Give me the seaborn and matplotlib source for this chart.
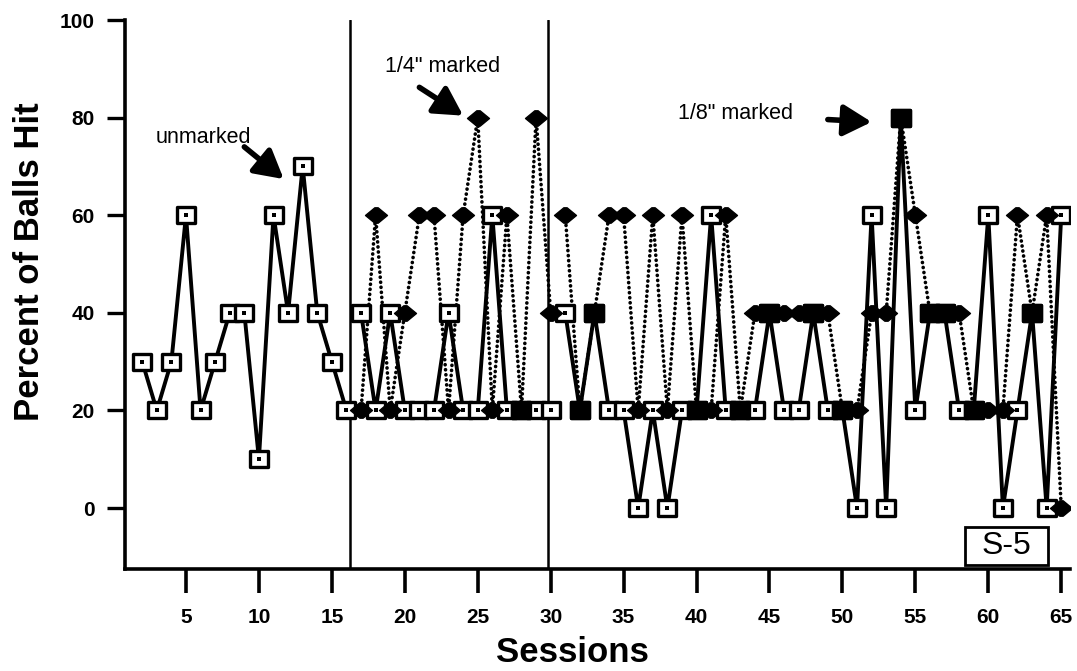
import numpy as np
import pandas as pd
import matplotlib
matplotlib.use("Agg")
import matplotlib.pyplot as plt
import seaborn as sns
from matplotlib.path import Path
from matplotlib.patches import Rectangle

# ---------------- data ----------------
phase_names = ["unmarked", "1/4\" marked", "1/8\" marked"]
phase_first_session = [2, 17, 31]
phase_change_lines = [16.25, 29.8]

sessions_unmarked = list(range(2, 66))
unmarked = [30, 20, 30, 60, 20, 30, 40, 40, 10, 60, 40, 70, 40, 30, 20,          # 2-16
            40, 20, 40, 20, 20, 20, 40, 20, 20, 60, 20, 20, 20, 20,              # 17-30
            40, 20, 40, 20, 20, 0, 20, 0, 20, 20, 60, 20, 20, 20, 40, 20, 20,    # 31-47
            40, 20, 20, 0, 60, 0, 80, 20, 40, 40, 20, 20, 60, 0, 20, 40, 0, 60]  # 48-65

sessions_marked = list(range(17, 66))
marked = [20, 60, 20, 40, 60, 60, 20, 60, 80, 20, 60, 20, 80, 40,                # 17-30
          60, 20, 40, 60, 60, 20, 60, 20, 60, 20, 20, 60, 20, 40, 40, 40, 40,    # 31-47
          40, 40, 20, 20, 40, 40, 80, 60, 40, 40, 40, 20, 20, 20, 60, 40, 60, 0] # 48-65

x_ticks = [5, 10, 15, 20, 25, 30, 35, 40, 45, 50, 55, 60, 65]
y_ticks = [0, 20, 40, 60, 80, 100]


def phase_of(s):
    return int(np.searchsorted(phase_first_session, s, side="right") - 1)


df_u = pd.DataFrame({"session": sessions_unmarked, "pct": unmarked})
df_u["phase"] = df_u["session"].map(phase_of)
df_m = pd.DataFrame({"session": sessions_marked, "pct": marked})
df_m["phase"] = df_m["session"].map(phase_of)

both = df_m.merge(df_u, on="session", suffixes=("_m", "_u"))
same = both[both["pct_m"] == both["pct_u"]]
df_m_only = df_m[~df_m["session"].isin(same["session"])]

# ---------------- style ----------------
sns.set_style("ticks")
plt.rcParams["font.family"] = ["Liberation Sans", "DejaVu Sans"]
plt.rcParams["text.color"] = "black"
plt.rcParams["axes.labelcolor"] = "black"
plt.rcParams["xtick.color"] = "black"
plt.rcParams["ytick.color"] = "black"

fig = plt.figure(figsize=(10.77, 6.71), dpi=100)
W, H = 1077, 671
ax = fig.add_axes([125 / W, 1 - 569 / H, (1070 - 125) / W, (569 - 20) / H])

square = Path([(-1, -0.82), (1, -0.82), (1, 0.82), (-1, 0.82), (-1, -0.82)],
              [Path.MOVETO, Path.LINETO, Path.LINETO, Path.LINETO, Path.CLOSEPOLY])
diamond = Path([(-1, 0), (-0.15, 0.7), (0.15, 0.7), (1, 0), (0.15, -0.7), (-0.15, -0.7), (-1, 0)],
               [Path.MOVETO] + [Path.LINETO] * 5 + [Path.CLOSEPOLY])

# dotted line (marked balls)
n0 = len(ax.lines)
sns.lineplot(data=df_m, x="session", y="pct", units="phase", estimator=None,
             color="black", lw=2.6, ax=ax, zorder=2)
for ln in ax.lines[n0:]:
    ln.set_linestyle((0, (0.05, 1.35)))
    ln.set_dash_capstyle("round")

# solid line (unmarked balls)
sns.lineplot(data=df_u, x="session", y="pct", units="phase", estimator=None,
             color="black", lw=2.8, ax=ax, zorder=3)

# open squares
sns.scatterplot(data=df_u, x="session", y="pct", marker=square, s=175,
                color="white", edgecolor="black", linewidth=2.4, ax=ax, zorder=4)
sns.scatterplot(data=df_u, x="session", y="pct", marker="s", s=5,
                color="black", edgecolor="black", linewidth=0, ax=ax, zorder=5)
# filled diamonds
sns.scatterplot(data=df_m_only, x="session", y="pct", marker=diamond, s=250,
                color="black", edgecolor="black", linewidth=1, ax=ax, zorder=6)
# coincident points appear as filled squares
sns.scatterplot(data=same, x="session", y="pct_m", marker=square, s=175,
                color="black", edgecolor="black", linewidth=2.4, ax=ax, zorder=7)

for xv in phase_change_lines:
    ax.axvline(xv, color="black", lw=1.8, zorder=1)

ax.set_xlim(0.82, 65.6)
ax.set_ylim(-12.5, 100)
ax.set_xticks(x_ticks)
ax.set_yticks(y_ticks)
ax.set_xticklabels([str(v) for v in x_ticks], fontweight="bold", fontsize=15)
ax.set_yticklabels([str(v) for v in y_ticks], fontweight="bold", fontsize=15)
ax.tick_params(axis="both", colors="black")
ax.tick_params(axis="y", length=13, width=2.4, pad=9, direction="out")
ax.tick_params(axis="x", length=17, width=2.6, pad=11, direction="out")
ax.set_xlabel("")
ax.set_ylabel("")
for side in ["top", "right"]:
    ax.spines[side].set_visible(False)
for side in ["left", "bottom"]:
    ax.spines[side].set_linewidth(2.6)
    ax.spines[side].set_color("black")

fig.text(30 / W, 1 - 262 / H, "Percent of Balls Hit", rotation=90,
         ha="center", va="center", fontsize=25, fontweight="bold", color="black")
fig.text(572 / W, 1 - 652 / H, "Sessions", ha="center", va="center",
         fontsize=25, fontweight="bold", color="black")

# annotations
ax.text(6.17, 76.0, phase_names[0], ha="center", va="center", fontsize=15.5, color="black")
ax.text(22.56, 90.4, phase_names[1], ha="center", va="center", fontsize=15.5, color="black")
ax.text(42.65, 80.9, phase_names[2], ha="center", va="center", fontsize=15.5, color="black")
arrow = dict(arrowstyle="-|>,head_length=0.9,head_width=0.5", lw=4,
             color="black", mutation_scale=19, shrinkA=0, shrinkB=0)
ax.annotate("", xy=(11.7, 67.4), xytext=(9.0, 74.0), arrowprops=arrow)
ax.annotate("", xy=(24.0, 80.4), xytext=(21.0, 86.2), arrowprops=arrow)
ax.annotate("", xy=(52.0, 79.1), xytext=(49.0, 79.6), arrowprops=arrow)

ax.add_patch(Rectangle((58.43, -11.7), 64.12 - 58.43, 7.8, facecolor="white",
                       edgecolor="black", lw=2, zorder=8, clip_on=False))
ax.text(61.27, -7.8, "S-5", ha="center", va="center", fontsize=23, zorder=9, color="black")

fig.savefig("out.png", dpi=100)
